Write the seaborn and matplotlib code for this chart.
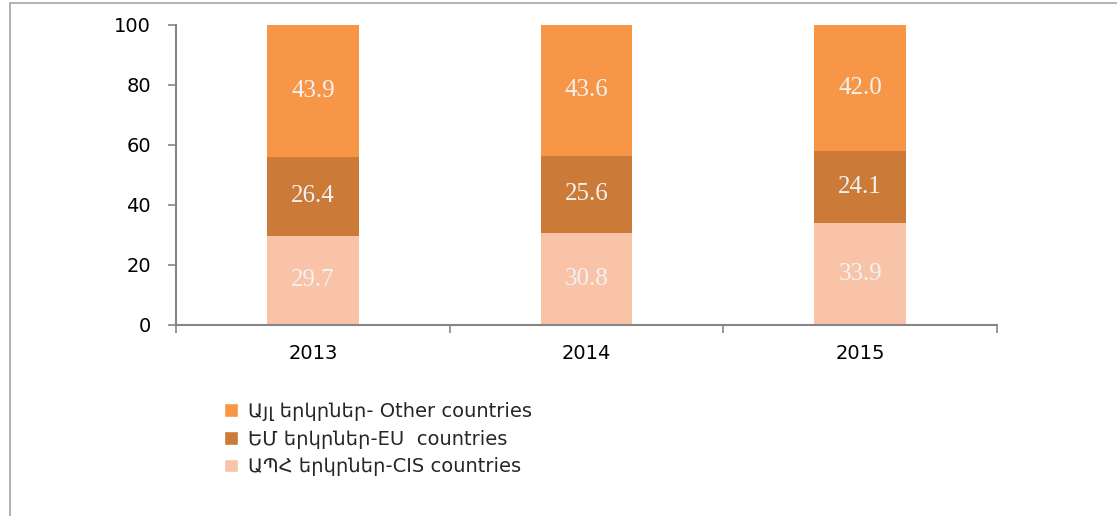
import pandas as pd
import seaborn as sns
import matplotlib.pyplot as plt
from matplotlib.lines import Line2D
from matplotlib.patches import Patch

# data (shares, %)
years = ['2013', '2014', '2015']
cis = [29.7, 30.8, 33.9]
eu = [26.4, 25.6, 24.1]
other = [43.9, 43.6, 42.0]

labels = ['Այլ երկրներ- Other countries',
          'ԵՄ երկրներ-EU  countries',
          'ԱՊՀ երկրներ-CIS countries']
colors = {'other': '#F79646', 'eu': '#CC7A38', 'cis': '#F9C3A8'}

df = pd.DataFrame({'year': years, 'cis': cis, 'eu': eu, 'other': other})
df['cis_top'] = df['cis']
df['eu_top'] = df['cis'] + df['eu']
df['other_top'] = df['eu_top'] + df['other']

sns.set_theme(style="white")
plt.rcParams['font.family'] = ['DejaVu Sans']

fig = plt.figure(figsize=(11.17, 5.16), dpi=100)
ax = fig.add_axes([0.1576, 0.3702, 0.735, 0.5814])

# stacked look: draw the tallest first, then smaller on top of it
bw = 0.335
for col, c in [('other_top', 'other'), ('eu_top', 'eu'), ('cis_top', 'cis')]:
    sns.barplot(data=df, x='year', y=col, color=colors[c], width=bw,
                saturation=1, linewidth=0, ax=ax)

# segment labels
for i in range(len(years)):
    mids = [cis[i] / 2, cis[i] + eu[i] / 2, cis[i] + eu[i] + other[i] / 2]
    vals = [cis[i], eu[i], other[i]]
    for m, v in zip(mids, vals):
        ax.text(i, m, f'{v:.1f}', ha='center', va='center', color='#F2F2F2',
                fontsize=18, family='Liberation Serif')

ax.set_xlim(-0.5, 2.5)
ax.set_ylim(0, 100)
ax.set_yticks(range(0, 101, 20))
ax.set_xlabel('')
ax.set_ylabel('')

for s in ['top', 'right']:
    ax.spines[s].set_visible(False)
for s in ['left', 'bottom']:
    ax.spines[s].set_color('#868686')
    ax.spines[s].set_linewidth(1.5)

ax.tick_params(axis='y', which='major', length=6, width=1.2, color='#868686',
               labelsize=14, labelcolor='black', left=True, pad=12)
ax.tick_params(axis='x', which='major', length=0, labelsize=14,
               labelcolor='black', pad=14)
ax.set_xticks([-0.5, 0.5, 1.5, 2.5], minor=True)
ax.tick_params(axis='x', which='minor', length=6, width=1.2, color='#868686',
               bottom=True)

handles = [Patch(facecolor=colors['other']), Patch(facecolor=colors['eu']),
           Patch(facecolor=colors['cis'])]
fig.legend(handles, labels, loc='upper left',
           bbox_to_anchor=(0.192, 0.240), frameon=False, fontsize=14,
           handlelength=0.7, handleheight=0.7, handletextpad=0.5,
           labelspacing=0.45, borderpad=0)

# outer frame (left and top edge of the chart box)
fig.add_artist(Line2D([0.009, 0.009], [0, 0.994], color='#A6A6A6', lw=1.2,
                      transform=fig.transFigure))
fig.add_artist(Line2D([0.009, 1.0], [0.994, 0.994], color='#A6A6A6', lw=1.2,
                      transform=fig.transFigure))

fig.savefig('out.png', dpi=100)
